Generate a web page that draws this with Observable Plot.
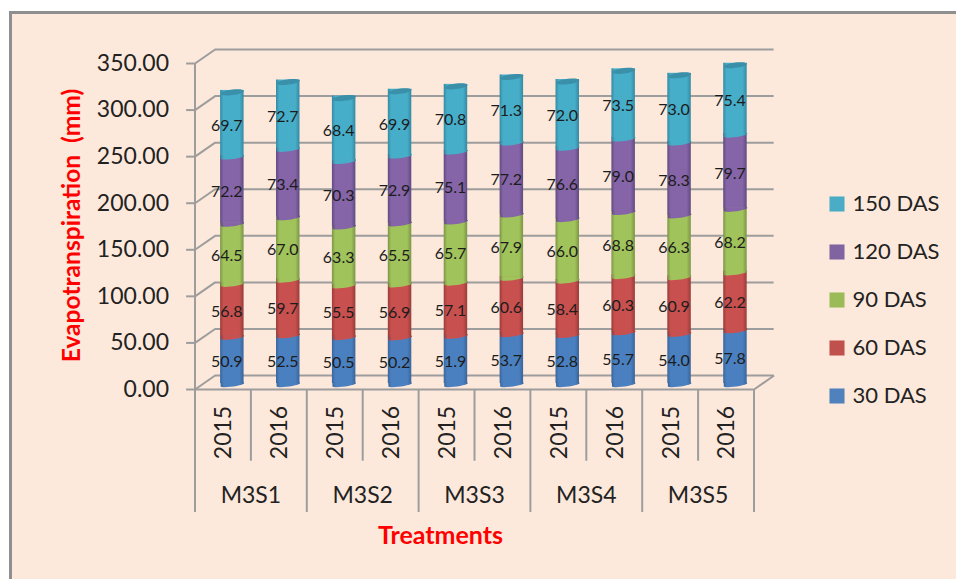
<!DOCTYPE html>
<html>
<head>
<meta charset="utf-8">
<script src="https://cdn.jsdelivr.net/npm/d3@7"></script>
<script src="https://cdn.jsdelivr.net/npm/@observablehq/plot@0.6"></script>
<style>
  html, body { margin: 0; padding: 0; background: #fff; }
  #chart { position: relative; width: 956px; height: 579px; overflow: hidden; }
  #panel { position: absolute; left: 9px; top: 11px; right: 0; bottom: 0;
           background: #fde9db; border-left: 3px solid #8f8f8f; border-top: 3px solid #8f8f8f; }
  #chart svg { position: absolute; left: 0; top: 0; }
</style>
</head>
<body>
<div id="chart"><div id="panel"></div></div>
<script>
// Evapotranspiration by treatment and year
const treatments = ["M3S1", "M3S2", "M3S3", "M3S4", "M3S5"];
const years = ["2015", "2016"];
const stages = ["30 DAS", "60 DAS", "90 DAS", "120 DAS", "150 DAS"];
const das30 = [50.9, 52.5, 50.5, 50.2, 51.9, 53.7, 52.8, 55.7, 54.0, 57.8];
const das60 = [56.8, 59.7, 55.5, 56.9, 57.1, 60.6, 58.4, 60.3, 60.9, 62.2];
const das90 = [64.5, 67.0, 63.3, 65.5, 65.7, 67.9, 66.0, 68.8, 66.3, 68.2];
const das120 = [72.2, 73.4, 70.3, 72.9, 75.1, 77.2, 76.6, 79.0, 78.3, 79.7];
const das150 = [69.7, 72.7, 68.4, 69.9, 70.8, 71.3, 72.0, 73.5, 73.0, 75.4];
const yTicks = [0, 50, 100, 150, 200, 250, 300, 350];

const stageValues = [das30, das60, das90, das120, das150];
const baseColors = ["#4a80c0", "#c8504e", "#a1c35b", "#8564a7", "#47aeca"];
const edgeColors = ["#3a659a", "#983c3a", "#7a9645", "#5f4b80", "#348aa2"];
const capColor = "#3b90a9";
const legendColors = ["#4f81bd", "#c0504d", "#9bbb59", "#8064a2", "#4bacc6"];

const gridColor = "#9d9d9d";
const textColor = "#222";
const titleColor = "#ff0000";

// Plot area and the oblique shift of the back wall, in x slots and y units
const margin = { left: 194.5, right: 202.5, top: 63, bottom: 190 };
const depthX = 0.36;
const depthY = 15;
const barWidth = 0.42;
const barShift = { dx: 9.4, dy: -4.5 };

const slots = d3.range(10);
const groupEdges = d3.range(0, 11, 2);
const yearEdges = d3.range(1, 10, 2);

// Stacked segments, lowest stage first
const segments = stages.flatMap((stage, s) =>
  slots.map((i) => {
    const y1 = d3.sum(stageValues.slice(0, s), (v) => v[i]);
    const value = stageValues[s][i];
    return { stage: s, slot: i, value, y1, y2: y1 + value };
  })
);
const tops = segments.filter((d) => d.stage === stages.length - 1);

// Tilted end pieces of a cylinder, drawn around the dot's centre
const tilt = 1.4;
const lowerArc = {
  draw(ctx, size) {
    const rx = Math.sqrt(size / Math.PI);
    ctx.moveTo(-rx, tilt);
    ctx.bezierCurveTo(-rx * 0.9, tilt + 2.2, rx * 0.9, -tilt + 2.2, rx, -tilt);
    ctx.lineTo(rx, -tilt - 1);
    ctx.lineTo(-rx, -tilt - 1);
    ctx.closePath();
  }
};
const topCap = {
  draw(ctx, size) {
    const rx = Math.sqrt(size / Math.PI);
    const k = 3.6;
    ctx.moveTo(-rx, tilt);
    ctx.bezierCurveTo(-rx * 0.9, tilt + k, rx * 0.9, -tilt + k, rx, -tilt);
    ctx.bezierCurveTo(rx * 0.9, -tilt - k, -rx * 0.9, tilt - k, -rx, tilt);
    ctx.closePath();
  }
};

// Horizontal shading shared by each stage's bodies and end pieces
const shading = () => {
  const svgNS = "http://www.w3.org/2000/svg";
  const defs = document.createElementNS(svgNS, "defs");
  baseColors.forEach((base, s) => {
    const g = document.createElementNS(svgNS, "linearGradient");
    g.setAttribute("id", `stage-${s}`);
    [[0, edgeColors[s]], [0.14, base], [0.82, base], [1, edgeColors[s]]].forEach(([o, c]) => {
      const stop = document.createElementNS(svgNS, "stop");
      stop.setAttribute("offset", o);
      stop.setAttribute("stop-color", c);
      g.appendChild(stop);
    });
    defs.appendChild(g);
  });
  return defs;
};

const barMarks = stages.flatMap((stage, s) => {
  const rows = segments.filter((d) => d.stage === s);
  const fill = `url(#stage-${s})`;
  return [
    Plot.rect(rows, {
      x1: (d) => d.slot + 0.5 - barWidth / 2,
      x2: (d) => d.slot + 0.5 + barWidth / 2,
      y1: "y1",
      y2: "y2",
      fill,
      insetBottom: 1.4,
      insetTop: -2,
      ...barShift
    }),
    Plot.dot(rows, {
      x: (d) => d.slot + 0.5,
      y: "y1",
      symbol: lowerArc,
      r: 11.7,
      fill,
      stroke: "none",
      ...barShift
    })
  ];
});

// Anchored text placed by offsets from the plot frame's corner
const frameText = (label, x, y, options) =>
  Plot.text([label], {
    frameAnchor: "top-left",
    dx: x - margin.left,
    dy: y - margin.top,
    text: (d) => d,
    lineAnchor: "middle",
    ...options
  });

const legendMarks = stages.flatMap((stage, s) => {
  const y = 395.5 - 48 * s;
  return [
    Plot.dot([stage], {
      frameAnchor: "top-left",
      dx: 836.5 - margin.left,
      dy: y - margin.top,
      symbol: "square",
      r: 8.5,
      fill: legendColors[s],
      stroke: "none"
    }),
    frameText(stage, 852, y, { textAnchor: "start", fontSize: 22, fill: textColor })
  ];
});

const gridStyle = { stroke: gridColor, strokeWidth: 2 };

const plot = Plot.plot({
  width: 956,
  height: 579,
  marginLeft: margin.left,
  marginRight: margin.right,
  marginTop: margin.top,
  marginBottom: margin.bottom,
  style: { background: "transparent", fontFamily: "Lato, sans-serif" },
  x: { domain: [0, 10], axis: null },
  y: { domain: [0, 350], axis: null },
  marks: [
    shading,

    // Back wall, floor and the oblique connectors to the front axis
    Plot.ruleY(yTicks, { x1: depthX, x2: 10 + depthX, y: (d) => d + depthY, ...gridStyle }),
    Plot.link(yTicks, { x1: 0, y1: (d) => d, x2: depthX, y2: (d) => d + depthY, ...gridStyle }),
    Plot.link([0], { x1: 10, y1: 0, x2: 10 + depthX, y2: depthY, ...gridStyle }),

    // Front axis lines, ticks and the separators under the floor
    Plot.ruleX([0], { y1: 0, y2: 350, ...gridStyle }),
    Plot.ruleY([0], { x1: 0, x2: 10, ...gridStyle }),
    Plot.ruleY(yTicks, { x1: -0.15, x2: 0, ...gridStyle }),
    Plot.ruleX(groupEdges, { y1: 0, y2: -132, ...gridStyle }),
    Plot.ruleX(yearEdges, { y1: 0, y2: -77, ...gridStyle }),

    Plot.axisY(yTicks, {
      anchor: "left",
      tickSize: 0,
      tickPadding: 26,
      tickFormat: d3.format(".2f"),
      fontSize: 23,
      color: textColor,
      label: null
    }),

    ...barMarks,
    Plot.dot(tops, {
      x: (d) => d.slot + 0.5,
      y: "y2",
      symbol: topCap,
      r: 11.7,
      fill: capColor,
      stroke: "none",
      ...barShift
    }),

    // Values printed on the segments
    Plot.text(segments, {
      x: (d) => d.slot + 0.5,
      y: (d) => (d.y1 + d.y2) / 2,
      text: (d) => d.value.toFixed(1),
      dx: barShift.dx - 5.5,
      dy: barShift.dy + 1,
      fontSize: 16,
      fill: "#1c1c1c"
    }),

    // Two-level category labels
    Plot.text(slots, {
      x: (i) => i + 0.5,
      y: 0,
      text: (i) => years[i % 2],
      rotate: -90,
      dy: 43,
      dx: 1,
      fontSize: 23,
      fill: textColor
    }),
    Plot.text(treatments, {
      x: (d, i) => 2 * i + 1,
      y: 0,
      text: (d) => d,
      dy: 106,
      fontSize: 23,
      fill: textColor
    }),

    // Axis titles
    frameText("Evapotranspiration  (mm)", 72, 225, {
      textAnchor: "middle",
      rotate: -90,
      fontSize: 24.6,
      fontWeight: 700,
      fill: titleColor
    }),
    frameText("Treatments", 440, 535, {
      textAnchor: "middle",
      fontSize: 25,
      fontWeight: 700,
      fill: titleColor
    }),

    ...legendMarks
  ]
});

document.getElementById("chart").appendChild(plot);
</script>
</body>
</html>
